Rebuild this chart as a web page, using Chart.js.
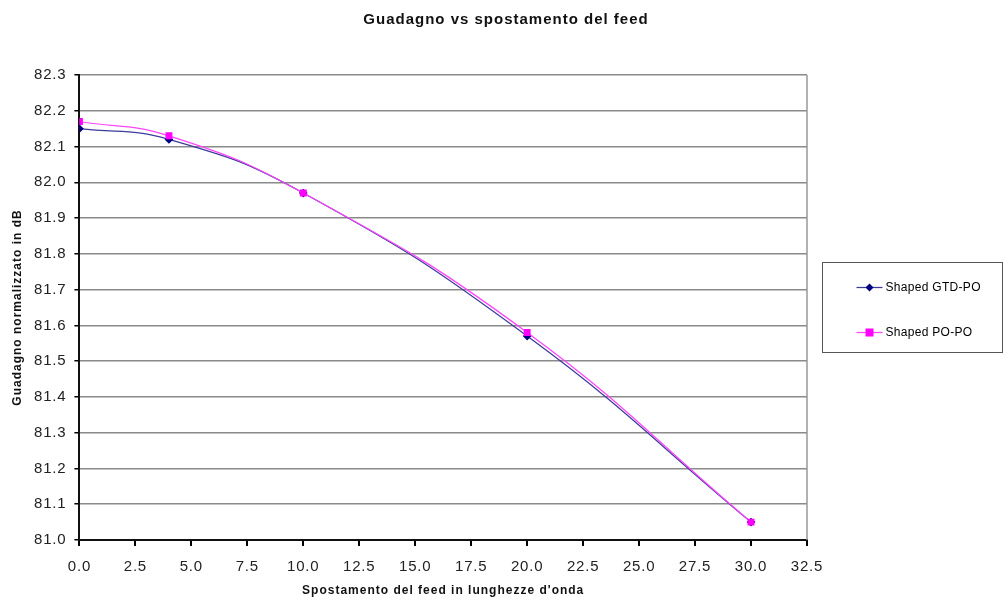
<!DOCTYPE html>
<html>
<head>
<meta charset="utf-8">
<script src="https://cdn.jsdelivr.net/npm/chart.js@4/dist/chart.umd.min.js"></script>
<style>
  html, body { margin: 0; padding: 0; background: #fff; }
  #wrap { width: 1003px; height: 601px; }
</style>
</head>
<body>
<div id="wrap"><canvas id="gainChart"></canvas></div>
<script>
// feed displacement (wavelengths) and normalized gain (dB)
const feedShift = [0, 4, 10, 20, 30];
const gainGtdPo = [82.15, 82.12, 81.97, 81.57, 81.05];
const gainPoPo = [82.17, 82.13, 81.97, 81.58, 81.05];
const seriesNames = ['Shaped GTD-PO', 'Shaped PO-PO'];
const chartTitle = 'Guadagno vs spostamento del feed';
const xTitle = 'Spostamento del feed in lunghezze d\'onda';
const yTitle = 'Guadagno normalizzato in dB';

const toPoints = (ys) => feedShift.map((x, i) => ({ x: x, y: ys[i] }));
const FONT = '"Liberation Sans", Arial, sans-serif';

// spaced text like the original, titles, box legend, gray right border
const excelLook = {
    id: 'excelLook',
    beforeLayout(chart) { chart.ctx.letterSpacing = '0.8px'; },
    beforeDraw(chart) { chart.ctx.letterSpacing = '0.8px'; },
    afterDraw(chart) {
        const c = chart.ctx;
        const a = chart.chartArea;
        c.save();
        c.strokeStyle = '#999';
        c.lineWidth = 1.5;
        c.beginPath();
        c.moveTo(a.right, a.top);
        c.lineTo(a.right, a.bottom);
        c.stroke();

        // titles
        c.letterSpacing = '1px';
        c.fillStyle = '#111';
        c.textAlign = 'center';
        c.textBaseline = 'middle';
        c.font = 'bold 15px ' + FONT;
        c.fillText(chartTitle, 506, 20);
        c.font = 'bold 12px ' + FONT;
        c.fillText(xTitle, (a.left + a.right) / 2, 591);
        c.save();
        c.translate(18, (a.top + a.bottom) / 2);
        c.rotate(-Math.PI / 2);
        c.fillText(yTitle, 0, 0);
        c.restore();

        // legend box
        const bx = 822.5, by = 262.5, bw = 180, bh = 90;
        c.strokeStyle = '#555';
        c.lineWidth = 1;
        c.strokeRect(bx, by, bw, bh);
        c.letterSpacing = '0.3px';
        c.font = '12px ' + FONT;
        c.textAlign = 'left';
        chart.data.datasets.forEach((ds, i) => {
            const yy = by + 25 + i * 45;
            c.strokeStyle = ds.borderColor;
            c.lineWidth = 1.25;
            c.beginPath();
            c.moveTo(bx + 34, yy);
            c.lineTo(bx + 60, yy);
            c.stroke();
            c.fillStyle = ds.pointBackgroundColor;
            if (i === 0) {
                c.beginPath();
                c.moveTo(bx + 47, yy - 4);
                c.lineTo(bx + 51, yy);
                c.lineTo(bx + 47, yy + 4);
                c.lineTo(bx + 43, yy);
                c.closePath();
                c.fill();
            } else {
                c.fillRect(bx + 43, yy - 4, 8, 8);
            }
            c.fillStyle = '#000';
            c.fillText(ds.label, bx + 63, yy);
        });
        c.restore();
    }
};

new Chart(document.getElementById('gainChart').getContext('2d'), {
    type: 'line',
    data: {
        datasets: [
            {
                label: seriesNames[0],
                data: toPoints(gainGtdPo),
                borderColor: '#3c3c9c',
                borderWidth: 1.25,
                pointStyle: 'rectRot',
                pointRadius: 3.5,
                pointBackgroundColor: '#000080',
                pointBorderColor: '#000080',
                tension: 0.45,
                fill: false,
                order: 2
            },
            {
                label: seriesNames[1],
                data: toPoints(gainPoPo),
                borderColor: '#ff44ff',
                borderWidth: 1.25,
                pointStyle: 'rect',
                pointRadius: 4,
                pointBackgroundColor: '#ff00ff',
                pointBorderColor: '#ff00ff',
                tension: 0.45,
                fill: false,
                order: 1
            }
        ]
    },
    options: {
        responsive: true,
        maintainAspectRatio: false,
        animation: false,
        layout: { padding: { top: 75, right: 196, left: 26, bottom: 13 } },
        scales: {
            x: {
                type: 'linear',
                min: 0,
                max: 32.5,
                ticks: {
                    stepSize: 2.5,
                    color: '#222',
                    font: { family: FONT, size: 15 },
                    callback: (v) => v.toFixed(1),
                    padding: 12
                },
                grid: { drawOnChartArea: false, color: '#000', tickLength: 6, lineWidth: 2 },
                border: { color: '#111', width: 2 }
            },
            y: {
                min: 81,
                max: 82.3,
                ticks: {
                    stepSize: 0.1,
                    color: '#222',
                    font: { family: FONT, size: 15 },
                    callback: (v) => v.toFixed(1),
                    padding: 8
                },
                grid: { color: '#8a8a8a', lineWidth: 1.5, tickLength: 5, tickColor: '#000' },
                border: { color: '#111', width: 2 }
            }
        },
        plugins: {
            legend: { display: false },
            tooltip: { enabled: false },
            title: { display: false }
        }
    },
    plugins: [excelLook]
});
</script>
</body>
</html>
